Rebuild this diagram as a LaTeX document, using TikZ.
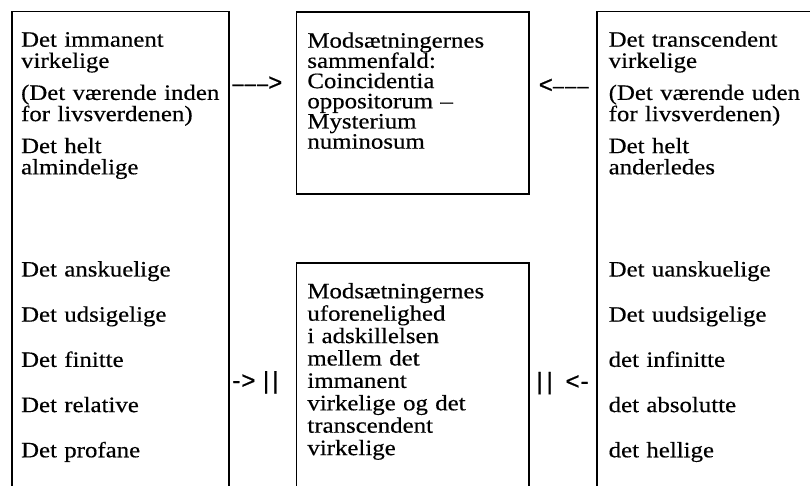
\documentclass[tikz,border=0pt]{standalone}
\usepackage{fontspec}
\setmainfont[FakeStretch=1.13,FakeBold=0.4]{Liberation Serif}
\newfontfamily\signfont[FakeBold=0.8]{Liberation Sans}
\newcommand{\sdash}{{\fontsize{10}{10}\selectfont–}}
\begin{document}
\begin{tikzpicture}[x=0.5pt,y=-0.5pt,
  box/.style={draw,line width=0.8pt,anchor=north west,inner sep=0pt,outer sep=0pt},
  txt/.style={anchor=base west,inner sep=0pt,text width=112pt,align=left,
    execute at begin node={\lineskiplimit=-\maxdimen}},
  sign/.style={inner sep=0pt,font=\signfont\fontsize{12}{12}\selectfont}]
  \useasboundingbox (0,0) rectangle (810,486);
  \clip (0,0) rectangle (810,486);
  \node[box,minimum width=108.65pt,minimum height=260pt] (immanent) at (11.7,11.7) {};
  \node[box,minimum width=116.25pt,minimum height=91pt] (fald) at (296.5,12) {};
  \node[box,minimum width=116.25pt,minimum height=130pt] (split) at (296.5,263) {};
  \node[box,minimum width=125pt,minimum height=260pt] (trans) at (597,11.7) {};
  \node[txt,font=\fontsize{11}{10.6}\selectfont] (immtext) at ([shift={(9,35)}]immanent.north west)
    {Det immanent\\ virkelige\\[5.4pt] (Det værende inden\\ for livsverdenen)\\[5.4pt]
     Det helt\\ almindelige\\[40.5pt] Det anskuelige\\[12pt] Det udsigelige\\[12pt]
     Det finitte\\[12pt] Det relative\\[12pt] Det profane};
  \node[txt,font=\fontsize{11}{10.6}\selectfont] (transtext) at ([shift={(11.3,35)}]trans.north west)
    {Det transcendent\\ virkelige\\[5.4pt] (Det værende uden\\ for livsverdenen)\\[5.4pt]
     Det helt\\ anderledes\\[40.5pt] Det uanskuelige\\[12pt] Det uudsigelige\\[12pt]
     det infinitte\\[12pt] det absolutte\\[12pt] det hellige};
  \node[txt,font=\fontsize{11}{10.1}\selectfont] (faldtext) at ([shift={(10.5,35.7)}]fald.north west)
    {Modsætningernes\\ sammenfald:\\ Coincidentia\\ oppositorum –\\ Mysterium\\ numinosum};
  \node[txt,font=\fontsize{11}{11.2}\selectfont] (splittext) at ([shift={(10.5,35.3)}]split.north west)
    {Modsætningernes\\ uforenelighed\\ i adskillelsen\\ mellem det\\ immanent\\
     virkelige og det\\ transcendent\\ virkelige};
  \node[sign,anchor=base west,xshift=1.5pt] (immfald) at (immanent.east |- 0,90.5)
    {\sdash\kern0.6pt\sdash\kern0.6pt\sdash>};
  \node[sign,anchor=base east,xshift=-4pt] (transfald) at (trans.west |- 0,92.8)
    {<\sdash\kern0.6pt\sdash\kern0.6pt\sdash};
  \node[sign,anchor=base west,xshift=1.5pt] (immsplit) at (immanent.east |- 0,388.5)
    {-\kern0.5pt>\kern3.8pt|\kern1.55pt|};
  \node[sign,anchor=base east,xshift=-4pt] (transsplit) at (trans.west |- 0,389.3)
    {|\kern1.9pt|\kern6.45pt<\kern0.5pt-};
\end{tikzpicture}
\end{document}
